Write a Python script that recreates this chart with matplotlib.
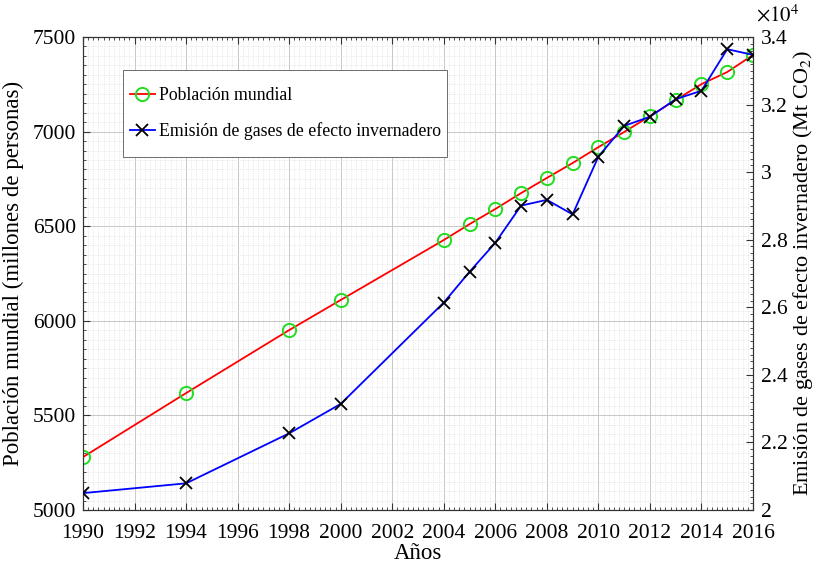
import matplotlib
matplotlib.use("Agg")
import matplotlib.pyplot as plt
from matplotlib.ticker import MultipleLocator, FuncFormatter
from matplotlib.patches import Rectangle

plt.rcParams['font.family'] = ['Liberation Serif', 'DejaVu Serif']
plt.rcParams['mathtext.fontset'] = 'stix'

# datos
anios = [1990, 1994, 1998, 2000, 2004, 2005, 2006, 2007, 2008, 2009,
         2010, 2011, 2012, 2013, 2014, 2015, 2016]
poblacion = [5280, 5618, 5951, 6110, 6427, 6511, 6591, 6675, 6755, 6834,
             6918, 6998, 7082, 7167, 7251, 7315, 7405]
emisiones = [20500, 20790, 22270, 23140, 26140, 27050, 27910, 29010, 29180, 28750,
             30460, 31370, 31640, 32160, 32410, 33640, 33470]

fig = plt.figure(figsize=(8.2, 5.66), dpi=100)
ax1 = fig.add_axes([0.1012, 0.0989, 0.8171, 0.8357])
ax2 = ax1.twinx()

l1, = ax1.plot(anios, poblacion, color='red', lw=1.3, marker='o', ms=9.5,
               mfc='none', mec='#22dd22', mew=1.4, label='Población mundial', zorder=3)
l2, = ax2.plot(anios, emisiones, color='blue', lw=1.3, marker='x', ms=8.5,
               mec='black', mew=1.3, label='Emisión de gases de efecto invernadero', zorder=4)

ax1.set_xlim(1990, 2016)
ax1.set_ylim(5000, 7500)
ax2.set_ylim(20000, 34000)

ax1.xaxis.set_major_locator(MultipleLocator(2))
ax1.xaxis.set_minor_locator(MultipleLocator(0.2))
ax1.yaxis.set_major_locator(MultipleLocator(500))
ax1.yaxis.set_minor_locator(MultipleLocator(50))
ax2.yaxis.set_major_locator(MultipleLocator(2000))
ax2.yaxis.set_minor_locator(MultipleLocator(200))
ax2.yaxis.set_major_formatter(FuncFormatter(lambda v, p: '%g' % (v / 1e4)))

ax1.grid(which='major', color='#c8c8c8', lw=0.7, ls='-')
ax1.grid(which='minor', color='#d8d8d8', lw=0.5, ls=':')
ax1.set_axisbelow(True)

for a in (ax1, ax2):
    a.tick_params(which='both', direction='in', labelsize=15.5, color='#333333')
    a.tick_params(which='major', length=5)
    a.tick_params(which='minor', length=2.5)
    for s in a.spines.values():
        s.set_color('#333333')
        s.set_linewidth(0.8)
ax1.tick_params(axis='x', which='both', top=True)
ax1.tick_params(axis='x', pad=10)
ax1.tick_params(axis='y', pad=5)
ax2.tick_params(axis='y', pad=6)

ax1.set_xlabel('Años', fontsize=16.5, labelpad=0)
ax1.set_ylabel('Población mundial (millones de personas)', fontsize=16.5, labelpad=6)
ax2.set_ylabel('Emisión de gases de efecto invernadero (Mt CO$_2$)', fontsize=16, labelpad=2)
ax2.text(1.004, 1.022, r'$\times10^4$', transform=ax2.transAxes, fontsize=15,
         ha='left', va='bottom')

leg = ax1.legend(handles=[l1, l2], loc='upper left', bbox_to_anchor=(0.063, 0.904),
                 fontsize=12.8, frameon=False,
                 handlelength=1.4, handletextpad=0.25, labelspacing=1.05,
                 borderpad=0.25, borderaxespad=0)
leg.set_zorder(10)

# marco de la leyenda con mas margen vertical (estilo matlab)
fig.canvas.draw()
bb = leg.get_window_extent().transformed(fig.transFigure.inverted())
padv = 12 / 566
padh = 2 / 820
marco = Rectangle((bb.x0 - padh, bb.y0 - padv), bb.width + 2 * padh, bb.height + 2 * padv,
                  transform=fig.transFigure, facecolor='white', edgecolor='#555555',
                  lw=0.6, zorder=9)
ax1.add_artist(marco)
marco.set_clip_on(False)

fig.savefig('out.png', dpi=100)
